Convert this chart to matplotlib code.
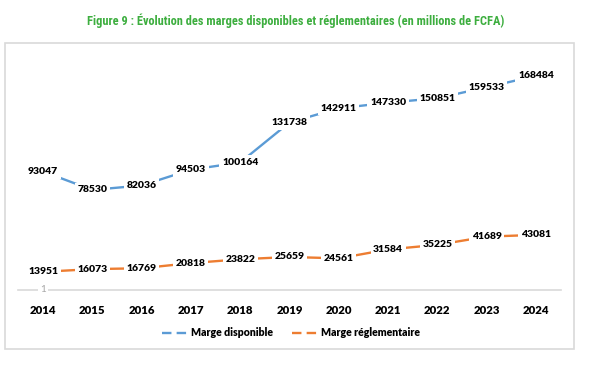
import matplotlib
matplotlib.use("Agg")
import matplotlib.pyplot as plt
from matplotlib.lines import Line2D
from matplotlib.patches import Rectangle
from matplotlib import font_manager

years = ["2014", "2015", "2016", "2017", "2018", "2019", "2020", "2021", "2022", "2023", "2024"]
marge_disponible = [93047, 78530, 82036, 94503, 100164, 131738, 142911, 147330, 150851, 159533, 168484]
marge_reglementaire = [13951, 16073, 16769, 20818, 23822, 25659, 24561, 31584, 35225, 41689, 43081]
series_names = ["Marge disponible", "Marge réglementaire"]
title = "Figure 9 : Évolution des marges disponibles et réglementaires (en millions de FCFA)"

BLUE = "#5B9BD5"
ORANGE = "#ED7D31"
GREEN = "#3DAE3F"

names = {f.name for f in font_manager.fontManager.ttflist}
title_font = None
for cand in ["Liberation Sans Narrow", "DejaVu Sans Condensed", "Roboto Condensed", "Open Sans Condensed"]:
    if cand in names:
        title_font = cand
        break
body_font = "Lato" if "Lato" in names else "DejaVu Sans"

W, H = 600, 372
fig = plt.figure(figsize=(W / 100, H / 100), dpi=100)

# chart frame
frame = Rectangle((5 / W, 1 - 349 / H), (574 - 5) / W, (349 - 43) / H,
                  transform=fig.transFigure, facecolor="white",
                  edgecolor="#D9D9D9", linewidth=1.2, zorder=-5)
fig.patches.append(frame)

t = fig.text(296 / W, 1 - 20.5 / H, title, ha="center", va="center",
             fontsize=9.6, fontweight="bold", color=GREEN,
             family=title_font if title_font is not None else "Liberation Sans")
# fit title width to ~415 px
fig.canvas.draw()
wpx = t.get_window_extent().width
t.set_fontsize(9.6 * 415 / wpx)

# axes placement (pixels)
left, right = 18.4, 560.6
y0 = 289.5
ymax = 180000
scale = 1.268e-3
top = y0 - ymax * scale
ax = fig.add_axes([left / W, 1 - y0 / H, (right - left) / W, (y0 - top) / H])
ax.set_xlim(-0.5, len(years) - 0.5)
ax.set_ylim(0, ymax)
ax.patch.set_alpha(0)
for s in ["top", "right", "left"]:
    ax.spines[s].set_visible(False)
ax.spines["bottom"].set_color("#D9D9D9")
ax.spines["bottom"].set_linewidth(1.2)
ax.set_yticks([])
x = list(range(len(years)))
ax.set_xticks(x)
ax.set_xticklabels(years, fontsize=8.2, fontweight="heavy", family=body_font)
ax.tick_params(axis="x", length=0, pad=11)

ax.plot(x, marge_disponible, color=BLUE, linewidth=1.7, zorder=2, solid_capstyle="round")
ax.plot(x, marge_reglementaire, color=ORANGE, linewidth=1.7, zorder=2, solid_capstyle="round")

for series in (marge_disponible, marge_reglementaire):
    for xi, v in zip(x, series):
        ax.text(xi, v, str(v), ha="center", va="center", fontsize=7.5, fontweight="heavy",
                family=body_font, color="black", zorder=3,
                bbox=dict(boxstyle="square,pad=0.25", facecolor="white", edgecolor="none"))

# stray "1" axis label
ax.text(0, 0, "1", ha="center", va="center", fontsize=7.2, color="#A6A6A6",
        family=body_font, zorder=3,
        bbox=dict(boxstyle="square,pad=0.2", facecolor="white", edgecolor="none"))

handles = [Line2D([], [], color=BLUE, linewidth=1.7, linestyle=(0, (4, 2.2))),
           Line2D([], [], color=ORANGE, linewidth=1.7, linestyle=(0, (4, 2.2)))]
leg = fig.legend(handles, series_names, loc="center", bbox_to_anchor=(291 / W, 1 - 333 / H),
                 ncol=2, frameon=False, handlelength=2.6, handletextpad=0.15,
                 columnspacing=1.8, prop=dict(family=body_font, weight="heavy", size=7.6))

fig.savefig("out.png", dpi=100, facecolor="white")
